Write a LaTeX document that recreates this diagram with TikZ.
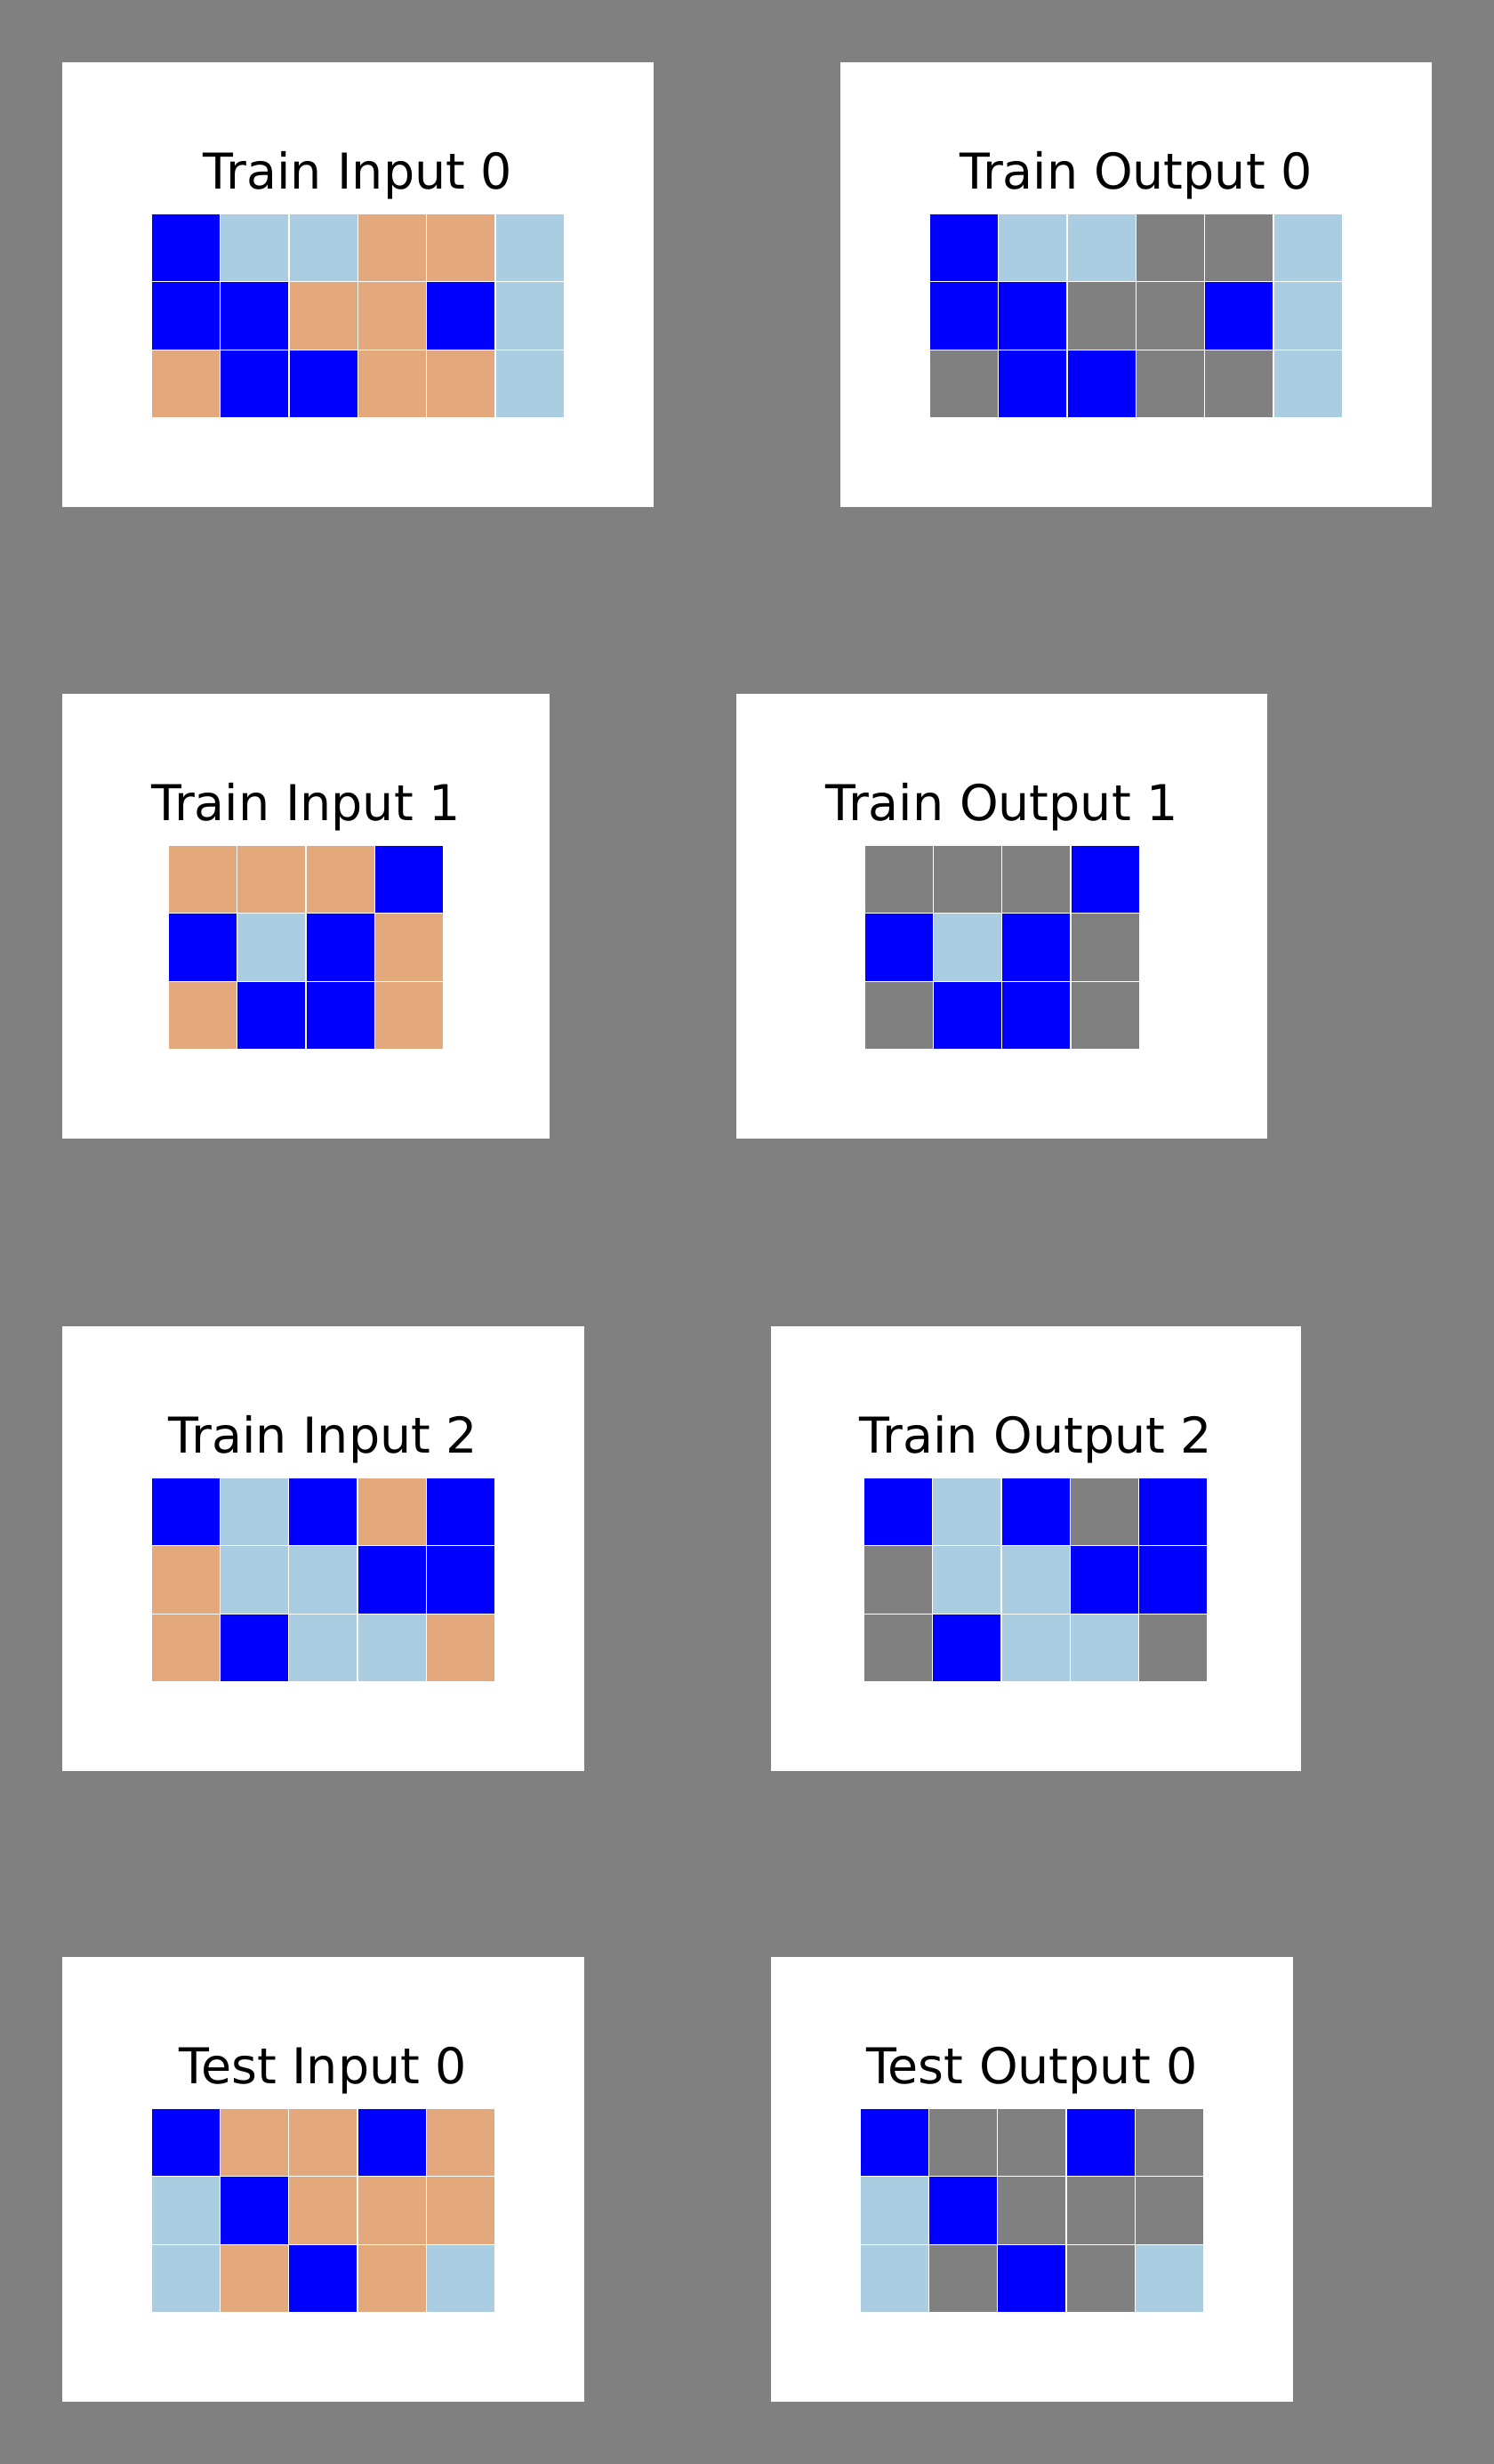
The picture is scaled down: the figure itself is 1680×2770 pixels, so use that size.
\documentclass[tikz,border=0pt]{standalone}
\usepackage{fontspec}
\setmainfont{DejaVu Sans}
\definecolor{bgG}{RGB}{128,128,128}
\definecolor{cB}{RGB}{0,0,255}
\definecolor{cL}{RGB}{170,205,225}
\definecolor{cT}{RGB}{227,168,124}
\definecolor{cG}{RGB}{128,128,128}
\newcommand{\cellrow}[3]{%
  \foreach \cc [count=\i from 0] in {#3}{%
    \fill[fill=c\cc] (#1+\i*77.3,#2) rectangle ++(77.3,76.7);
    \draw[cellline] (#1+\i*77.3,#2) rectangle ++(77.3,76.7);
  }}
\newcommand{\panel}[9]{% name, boxleft, boxright, top, gridleft, title, row1, row2, row3
  \fill[white] (#2,#4) rectangle (#3,#4+500);
  \node[ptitle] (#1) at ({(#2+#3)/2},#4+142) {#6};
  \cellrow{#5}{#4+170}{#7}
  \cellrow{#5}{#4+246.7}{#8}
  \cellrow{#5}{#4+323.4}{#9}
}
\begin{document}
\begin{tikzpicture}[x=1pt,y=-1pt,
  ptitle/.style={anchor=base,inner sep=0pt,font=\fontsize{55.5}{60}\selectfont},
  cellline/.style={draw=white,line width=1.3pt}]
\fill[bgG] (0,0) rectangle (1680,2770);
\useasboundingbox (0,0) rectangle (1680,2770);
\panel{ti0}{70}{735}{70}{170.5}{Train Input 0}{B,L,L,T,T,L}{B,B,T,T,B,L}{T,B,B,T,T,L}
\panel{to0}{945}{1610}{70}{1045.5}{Train Output 0}{B,L,L,G,G,L}{B,B,G,G,B,L}{G,B,B,G,G,L}
\panel{ti1}{70}{618}{780}{189.5}{Train Input 1}{T,T,T,B}{B,L,B,T}{T,B,B,T}
\panel{to1}{828}{1425}{780}{972}{Train Output 1}{G,G,G,B}{B,L,B,G}{G,B,B,G}
\panel{ti2}{70}{657}{1491}{170}{Train Input 2}{B,L,B,T,B}{T,L,L,B,B}{T,B,L,L,T}
\panel{to2}{867}{1463}{1491}{971.5}{Train Output 2}{B,L,B,G,B}{G,L,L,B,B}{G,B,L,L,G}
\panel{te0}{70}{657}{2200}{170}{Test Input 0}{B,T,T,B,T}{L,B,T,T,T}{L,T,B,T,L}
\panel{tf0}{867}{1454}{2200}{967}{Test Output 0}{B,G,G,B,G}{L,B,G,G,G}{L,G,B,G,L}
\end{tikzpicture}
\end{document}
